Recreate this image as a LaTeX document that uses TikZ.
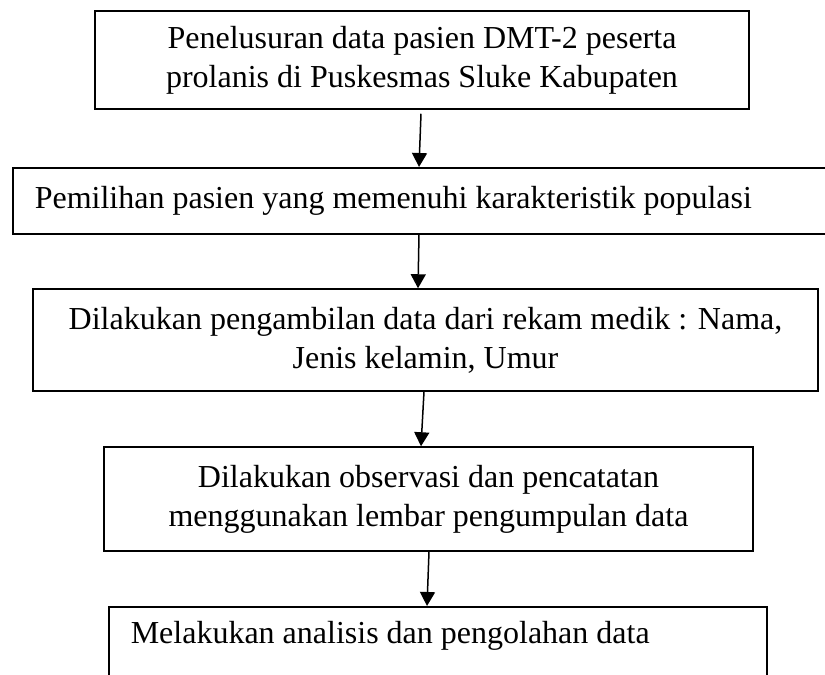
\documentclass[tikz,border=0pt]{standalone}
\usepackage{fontspec}
\setmainfont{Liberation Serif}
\usetikzlibrary{arrows.meta,calc}
\begin{document}
\begin{tikzpicture}[x=1pt,y=-1pt,
  box/.style={draw=black,line width=1.5pt,rectangle,inner sep=0pt,
    font=\fontsize{32}{39}\selectfont},
  cbox/.style={box,align=center},
  arr/.style={draw=black,line width=1.5pt,-{Triangle[width=15pt,length=14pt]}}]
\useasboundingbox (0,0) rectangle (825,675);
\fill[white] (0,0) rectangle (825,675);
\clip (0,0) rectangle (825,675);
\node[cbox,minimum width=654pt,minimum height=98pt] (b1) at (422,60)
  {Penelusuran data pasien DMT-2 peserta\\prolanis di Puskesmas Sluke Kabupaten};
\node[box,anchor=north west,text width=844pt,inner xsep=22pt,align=flush left,minimum height=66pt] (b2) at (12,167)
  {Pemilihan pasien yang memenuhi karakteristik populasi};
\node[cbox,minimum width=785pt,minimum height=102pt] (b3) at (425.5,340)
  {Dilakukan pengambilan data dari rekam medik : Nama,\\Jenis kelamin, Umur};
\node[cbox,minimum width=649pt,minimum height=104pt] (b4) at (428.5,499)
  {Dilakukan observasi dan pencatatan\\menggunakan lembar pengumpulan data};
\node[box,anchor=north west,text width=614pt,inner xsep=22pt,inner ysep=15pt,align=flush left] (b5) at (108,606)
  {Melakukan analisis dan pengolahan data\\ ~\\ ~};
\draw[arr] ($(b1.south)+(-1,4)$) -- ($(b2.north west)+(407,0)$);
\draw[arr] ($(b2.south west)+(407,0)$) -- ($(b3.north)+(-7.5,0)$);
\draw[arr] ($(b3.south)+(-1.5,0)$) -- ($(b4.north)+(-7.5,0)$);
\draw[arr] ($(b4.south)+(0.5,0)$) -- ($(b5.north west)+(319,0)$);
\end{tikzpicture}
\end{document}
